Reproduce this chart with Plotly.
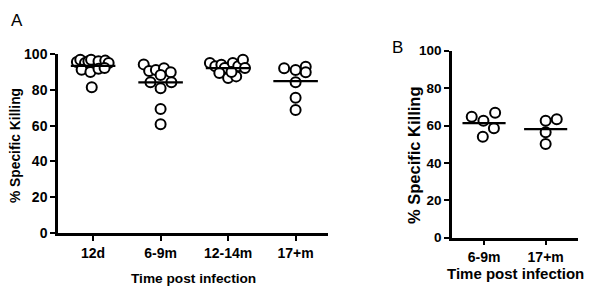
import plotly.graph_objects as go
import numpy as np

# Panel A data
cats_a = ["12d", "6-9m", "12-14m", "17+m"]
vals_12d = [95.5, 96.8, 95.0, 95.9, 96.8, 95.9, 96.3, 95.0, 91.2, 89.9, 91.8, 92.2, 81.4]
off_12d = [-0.24, -0.19, -0.12, -0.07, -0.03, 0.08, 0.18, 0.23, -0.17, -0.04, 0.08, 0.17, -0.02]
vals_69m = [94.2, 90.5, 91.1, 92.0, 88.3, 89.8, 84.2, 80.8, 84.2, 69.3, 60.7]
off_69m = [-0.25, -0.17, -0.07, 0.05, 0.0, 0.15, -0.15, 0.0, 0.16, 0.0, 0.0]
vals_1214m = [95.0, 93.1, 94.0, 92.2, 95.0, 93.1, 96.8, 92.2, 89.4, 86.6, 87.5, 89.9]
off_1214m = [-0.27, -0.19, -0.1, -0.05, 0.07, 0.15, 0.22, 0.25, -0.13, 0.0, 0.12, 0.05]
vals_17m = [92.0, 91.1, 92.9, 89.8, 84.2, 75.6, 68.7]
off_17m = [-0.17, 0.0, 0.15, 0.15, 0.0, 0.0, 0.0]

# Panel B data
cats_b = ["6-9m", "17+m"]
vals_b69m = [64.7, 62.6, 66.8, 58.5, 54.0]
off_b69m = [-0.2, -0.01, 0.18, 0.16, -0.02]
vals_b17m = [62.6, 63.3, 56.4, 50.1]
off_b17m = [0.0, 0.18, 0.0, 0.0]

yticks = [0, 20, 40, 60, 80, 100]

groups_a = [(vals_12d, off_12d), (vals_69m, off_69m), (vals_1214m, off_1214m), (vals_17m, off_17m)]
groups_b = [(vals_b69m, off_b69m), (vals_b17m, off_b17m)]

fig = go.Figure()

marker = dict(symbol="circle", size=10, color="white", line=dict(color="black", width=2))

def add_groups(groups, xa, ya, half):
    for i, (vals, offs) in enumerate(groups):
        fig.add_trace(go.Scatter(
            x=[i + o for o in offs], y=vals, mode="markers", marker=marker,
            xaxis=xa, yaxis=ya, cliponaxis=False, showlegend=False))
        m = float(np.mean(vals))
        fig.add_trace(go.Scatter(
            x=[i - half, i + half], y=[m, m], mode="lines",
            line=dict(color="black", width=2.2),
            xaxis=xa, yaxis=ya, cliponaxis=False, showlegend=False))

add_groups(groups_a, "x", "y", 0.33)
add_groups(groups_b, "x2", "y2", 0.35)

W, H = 600, 303
OFF = 8  # page body margin


def px(x):
    return (x - OFF) / W


def py(y):
    return 1 - (y - OFF) / H


def axis_common(size):
    return dict(showgrid=False, zeroline=False, showline=True, linecolor="black",
                linewidth=2.5, ticks="outside", ticklen=5, tickwidth=2, tickcolor="black",
                tickfont=dict(family="Liberation Sans, Arial", size=size, color="black"),
                automargin=False)


fig.update_layout(
    width=W, height=H, margin=dict(l=0, r=0, t=0, b=0, autoexpand=False),
    paper_bgcolor="white", plot_bgcolor="white",
    xaxis=dict(domain=[px(58), px(328)], range=[-0.52, 3.48], tickmode="array",
               tickvals=list(range(len(cats_a))), ticktext=["<b>%s</b>" % c for c in cats_a],
               anchor="y", **axis_common(14)),
    yaxis=dict(domain=[py(233), py(54)], range=[0, 100], tickmode="array",
               tickvals=yticks, ticktext=["<b>%d</b>" % t for t in yticks],
               anchor="x", **axis_common(14)),
    xaxis2=dict(domain=[px(452), px(577.7)], range=[-0.52, 1.52], tickmode="array",
                tickvals=list(range(len(cats_b))), ticktext=["<b>%s</b>" % c for c in cats_b],
                anchor="y2", **axis_common(14)),
    yaxis2=dict(domain=[py(237.7), py(50.7)], range=[0, 100], tickmode="array",
                tickvals=yticks, ticktext=["<b>%d</b>" % t for t in yticks],
                anchor="x2", **axis_common(13.5)),
)

font_t = dict(family="Liberation Sans, Arial", color="black")
anns = [
    dict(text="A", x=17, y=20, size=17, bold=False, angle=0),
    dict(text="B", x=397, y=47, size=17, bold=False, angle=0),
    dict(text="Time post infection", x=193, y=278, size=13.7, bold=True, angle=0),
    dict(text="Time post infection", x=515, y=273, size=15, bold=True, angle=0),
    dict(text="% Specific Killing", x=15.5, y=145.5, size=13.8, bold=True, angle=-90),
    dict(text="% Specific Killing", x=414, y=155, size=16.5, bold=True, angle=-90),
]
for a in anns:
    fig.add_annotation(
        text=("<b>%s</b>" % a["text"]) if a["bold"] else a["text"],
        x=px(a["x"]), y=py(a["y"]), xref="paper", yref="paper", showarrow=False,
        xanchor="center", yanchor="middle", textangle=a["angle"],
        font=dict(size=a["size"], **font_t))

fig.write_html("out.html")
